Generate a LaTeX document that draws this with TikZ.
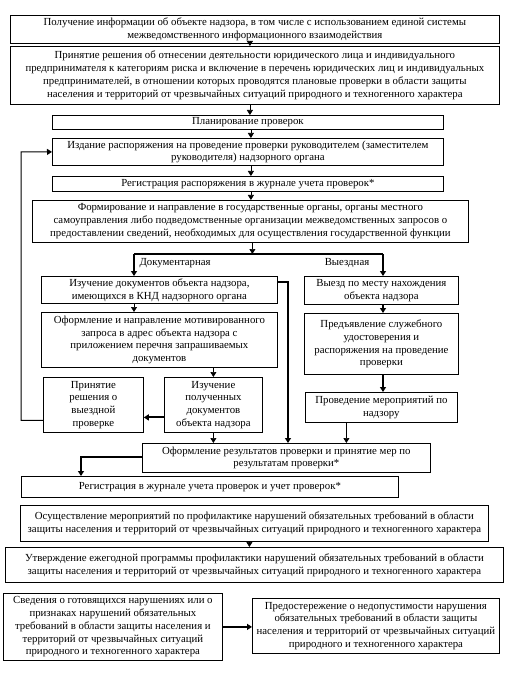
\documentclass[tikz,border=0pt]{standalone}
\usepackage{fontspec}
\setmainfont{Liberation Serif}
\usetikzlibrary{arrows.meta}

\begin{document}
\begin{tikzpicture}[
    x=1pt, y=-1pt,
    blk/.style={draw, line width=0.8pt, align=center, inner sep=1pt, anchor=north west},
    arr/.style={-{Triangle[length=5pt, width=6pt]}, line width=0.7pt},
    tarr/.style={-{Triangle[length=5pt, width=6pt]}, line width=2pt},
    font=\fontsize{10.8}{12.8}\selectfont
]
\useasboundingbox (0,0) rectangle (518,676);

% Main column
\node[blk, minimum width=489pt, minimum height=28pt] (obtain) at (10,15)
    {Получение информации  об объекте надзора, в том числе с использованием единой системы\\
     межведомственного информационного  взаимодействия};
\node[blk, minimum width=489pt, minimum height=58pt] (decide) at (10,46)
    {Принятие решения об отнесении деятельности юридического лица и индивидуального\\
     предпринимателя к категориям риска и включение в перечень юридических лиц и индивидуальных\\
     предпринимателей, в отношении которых проводятся плановые проверки в области защиты\\
     населения и территорий от чрезвычайных ситуаций природного  и техногенного характера};
\node[blk, minimum width=391pt, minimum height=14pt] (plan) at (52,115) {Планирование проверок};
\node[blk, minimum width=391pt, minimum height=27pt] (order) at (52,138)
    {Издание распоряжения на проведение проверки руководителем (заместителем\\
     руководителя) надзорного органа};
\node[blk, minimum width=391pt, minimum height=15pt] (regord) at (52,176)
    {Регистрация распоряжения в журнале учета проверок*};
\node[blk, minimum width=436pt, minimum height=42pt] (query) at (32,200)
    {Формирование и направление в государственные органы, органы местного\\
     самоуправления либо подведомственные организации межведомственных запросов о\\
     предоставлении сведений, необходимых для осуществления государственной функции};

\draw[arr] ([xshift=-5pt]obtain.south) -- ([xshift=-5pt]decide.north);
\draw[arr] ([xshift=-5pt]decide.south) -- ([xshift=-5pt]decide.south |- plan.north);
\draw[arr] ([xshift=3pt]plan.south) -- ([xshift=3pt]order.north);
\draw[arr] ([xshift=3pt]order.south) -- ([xshift=3pt]regord.north);
\draw[arr] ([xshift=3pt]regord.south) -- ([xshift=3pt]regord.south |- query.north);

% Branching
\coordinate (brL) at (134,254);
\coordinate (brR) at (383,254);
\draw[arr] ([xshift=2pt]query.south) -- ([xshift=2pt]query.south |- brL);
\draw[line width=1.2pt] (brL) -- (brR);
\node[anchor=west] (doc) at (136,263) {Документарная};
\node (visit) at (347,263) {Выездная};

% Documentary check
\node[blk, minimum width=236pt, minimum height=27pt] (study) at (41,276)
    {Изучение документов объекта надзора,\\имеющихся в КНД надзорного органа};
\node[blk, minimum width=236pt, minimum height=55pt] (request) at (41,312)
    {Оформление и направление  мотивированного\\запроса в адрес объекта надзора с\\
     приложением  перечня запрашиваемых\\документов};
\node[blk, minimum width=98pt, minimum height=55pt] (got) at (164,377)
    {Изучение\\полученных\\документов\\объекта надзора};
\node[blk, minimum width=100pt, minimum height=55pt] (resol) at (43,377)
    {Принятие\\решения о\\выездной\\проверке};

% Field check
\node[blk, minimum width=154pt, minimum height=28pt] (go) at (304,276)
    {Выезд по месту нахождения\\объекта надзора};
\node[blk, minimum width=154pt, minimum height=61pt] (show) at (304,313)
    {Предъявление служебного\\удостоверения и\\распоряжения на проведение\\проверки};
\node[blk, minimum width=152pt, minimum height=30pt] (act) at (305,392)
    {Проведение мероприятий по\\надзору};

% Results
\node[blk, minimum width=288pt, minimum height=29pt] (result) at (142,443)
    {Оформление результатов проверки и принятие мер по\\результатам проверки*};
\node[blk, minimum width=377pt, minimum height=21pt] (regall) at (21,476)
    {Регистрация в журнале учета проверок и учет проверок*};

\draw[tarr] (brL) -- (brL |- study.north);
\draw[tarr] (brR) -- (brR |- go.north);
\draw[arr] (study.south -| brL) -- (request.north -| brL);
\draw[arr] (request.south -| got) -- (got.north);
\draw[tarr] ([yshift=-12.5pt]got.west) -- ([yshift=-12.5pt]got.west -| resol.east);
\draw[arr] (got.south) -- (got.south |- result.north);
\coordinate (kx) at (288,282);
\draw[tarr] (study.east |- kx) -- (kx) -- (kx |- result.north);
\draw[tarr] (go.south -| brR) -- (show.north -| brR);
\draw[tarr] (show.south -| brR) -- (act.north -| brR);
\draw[arr] ([xshift=-35pt]act.south) -- ([xshift=-35pt]act.south |- result.north);

% Back to the order
\coordinate (fb) at (21,152);
\draw[arr, line width=1pt] ([yshift=-15.5pt]resol.west) -| (fb) -- (order.west);

\coordinate (rx) at (81,457);
\draw[tarr] (result.west |- rx) -- (rx) -- (rx |- regall.north);

% Prevention
\node[blk, minimum width=468pt, minimum height=36pt] (prevent) at (20,505)
    {Осуществление мероприятий по профилактике  нарушений обязательных требований в области\\
     защиты населения и территорий от чрезвычайных ситуаций природного  и техногенного характера};
\node[blk, minimum width=498pt, minimum height=35pt] (program) at (5,547)
    {Утверждение ежегодной программы профилактики нарушений обязательных требований в области\\
     защиты населения и территорий от чрезвычайных ситуаций природного  и техногенного характера};
\draw[arr] ([xshift=-5pt]prevent.south) -- ([xshift=-5pt]prevent.south |- program.north);

\node[blk, minimum width=219pt, minimum height=67pt] (info) at (3,593)
    {Сведения о готовящихся нарушениях или о\\признаках нарушений  обязательных\\
     требований в области защиты населения и\\территорий от чрезвычайных ситуаций\\
     природного  и техногенного характера};
\node[blk, minimum width=247pt, minimum height=55pt] (warn) at (252,598)
    {Предостережение о недопустимости нарушения\\обязательных требований в области защиты\\
     населения и территорий от чрезвычайных ситуаций\\природного  и техногенного характера};
\draw[tarr] (info.east) -- (info.east -| warn.west);

\end{tikzpicture}
\end{document}
